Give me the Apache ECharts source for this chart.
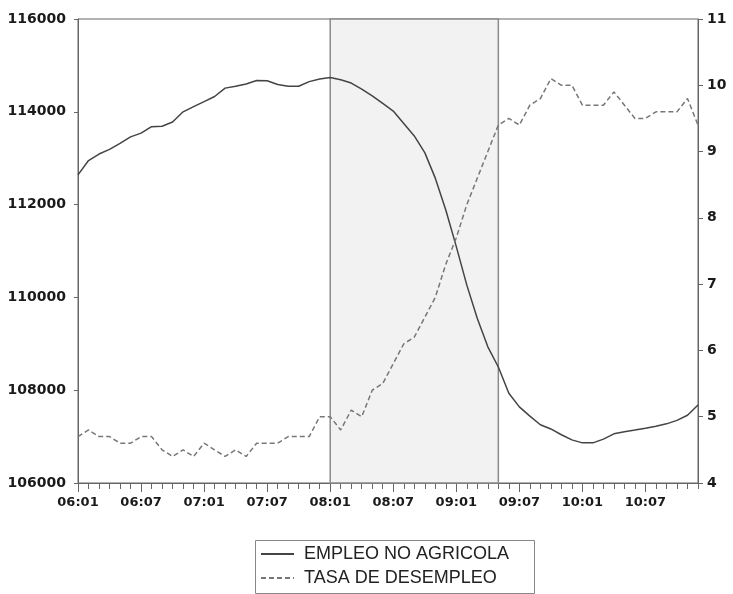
<!DOCTYPE html>
<html>
<head>
<meta charset="utf-8">
<script src="https://cdn.jsdelivr.net/npm/echarts@6/dist/echarts.min.js"></script>
<style>
html, body { margin: 0; padding: 0; background: #fff; }
#chart { width: 733px; height: 594px; }
</style>
</head>
<body>
<div id="chart"></div>
<script>
// meses 2006:01 - 2010:12
var years = ['06', '07', '08', '09', '10'];
var months = ['01', '02', '03', '04', '05', '06', '07', '08', '09', '10', '11', '12'];
var categories = [];
years.forEach(function (y) {
    months.forEach(function (m) { categories.push(y + ':' + m); });
});

// EMPLEO NO AGRICOLA (miles), eje izquierdo
var empleo = [
    112640, 112950, 113090, 113190, 113320, 113460, 113540, 113680, 113690, 113780, 114000, 114110,
    114220, 114330, 114510, 114550, 114600, 114675, 114670, 114590, 114550, 114550, 114650, 114705,
    114740, 114690, 114620, 114490, 114345, 114180, 114015, 113750, 113480, 113120, 112570, 111885,
    111095, 110265, 109545, 108935, 108500, 107935, 107640, 107440, 107255, 107165, 107040, 106930,
    106865, 106865, 106945, 107060, 107105, 107140, 107180, 107225, 107275, 107350, 107460, 107680
];

// TASA DE DESEMPLEO (%), eje derecho
var desempleo = [
    4.7, 4.8, 4.7, 4.7, 4.6, 4.6, 4.7, 4.7, 4.5, 4.4, 4.5, 4.4,
    4.6, 4.5, 4.4, 4.5, 4.4, 4.6, 4.6, 4.6, 4.7, 4.7, 4.7, 5.0,
    5.0, 4.8, 5.1, 5.0, 5.4, 5.5, 5.8, 6.1, 6.2, 6.5, 6.8, 7.3,
    7.7, 8.2, 8.6, 9.0, 9.4, 9.5, 9.4, 9.7, 9.8, 10.1, 10.0, 10.0,
    9.7, 9.7, 9.7, 9.9, 9.7, 9.5, 9.5, 9.6, 9.6, 9.6, 9.8, 9.4
];

// periodo sombreado (recesion)
var recesion = ['08:01', '09:05'];

var leftTicks = { min: 106000, max: 116000, step: 2000 };
var rightTicks = { min: 4, max: 11, step: 1 };

var chart = echarts.init(document.getElementById('chart'));

var axisFont = { fontFamily: 'DejaVu Sans', fontWeight: 'bold', color: '#1a1a1a' };

var option = {
    animation: false,
    backgroundColor: '#fff',
    grid: {
        left: 78, right: 35, top: 19, bottom: 111,
        show: true, borderColor: '#666', borderWidth: 1, backgroundColor: 'transparent'
    },
    xAxis: [{
        type: 'category',
        data: categories,
        boundaryGap: false,
        position: 'bottom',
        axisLine: { lineStyle: { color: '#666', width: 1 } },
        axisTick: { interval: 0, length: 6, lineStyle: { color: '#666' } },
        axisLabel: Object.assign({ interval: 5, fontSize: 13, margin: 13 }, axisFont),
        splitLine: { show: false }
    }, {
        type: 'category',
        data: categories,
        boundaryGap: false,
        position: 'bottom',
        axisLine: { show: false },
        axisTick: { interval: 5, length: 9, lineStyle: { color: '#666' } },
        axisLabel: { show: false },
        splitLine: { show: false }
    }],
    yAxis: [{
        type: 'value',
        position: 'left',
        min: leftTicks.min, max: leftTicks.max, interval: leftTicks.step,
        axisLine: { show: true, lineStyle: { color: '#666' } },
        axisTick: { show: true, length: 4, lineStyle: { color: '#666' } },
        axisLabel: Object.assign({
            fontSize: 14, margin: 12,
            formatter: function (v) { return String(v); }
        }, axisFont),
        splitLine: { show: false }
    }, {
        type: 'value',
        position: 'right',
        min: rightTicks.min, max: rightTicks.max, interval: rightTicks.step,
        axisLine: { show: true, lineStyle: { color: '#666' } },
        axisTick: { show: true, length: 5, lineStyle: { color: '#666' } },
        axisLabel: Object.assign({ fontSize: 14, margin: 9 }, axisFont),
        splitLine: { show: false }
    }],
    legend: {
        orient: 'vertical',
        left: 253, top: 541,
        padding: [3, 10, 3, 7],
        itemGap: 4,
        itemWidth: 33, itemHeight: 14,
        itemStyle: { opacity: 0 },
        textStyle: { fontFamily: 'Liberation Sans', fontSize: 18, lineHeight: 20, color: '#222', padding: [0, 0, 0, 5] },
        data: ['EMPLEO NO AGRICOLA', 'TASA DE DESEMPLEO']
    },
    graphic: [{
        type: 'rect',
        left: 253, top: 538,
        shape: { x: 0.5, y: 0.5, width: 279, height: 53 },
        style: { fill: 'none', stroke: '#888', lineWidth: 1 },
        silent: true
    }],
    series: [{
        name: 'EMPLEO NO AGRICOLA',
        type: 'line',
        xAxisIndex: 0, yAxisIndex: 0,
        data: empleo,
        symbol: 'none',
        lineStyle: { color: '#444', width: 1.5 },
        itemStyle: { color: '#444' },
        markArea: {
            silent: true,
            itemStyle: { color: '#f2f2f2', borderColor: '#8a8a8a', borderWidth: 1.5 },
            data: [[{ xAxis: recesion[0] }, { xAxis: recesion[1] }]]
        },
        z: 3
    }, {
        name: 'TASA DE DESEMPLEO',
        type: 'line',
        xAxisIndex: 0, yAxisIndex: 1,
        data: desempleo,
        symbol: 'none',
        lineStyle: { color: '#777', width: 1.5, type: [5, 3] },
        itemStyle: { color: '#888' },
        z: 3
    }]
};

chart.setOption(option);
</script>
</body>
</html>
